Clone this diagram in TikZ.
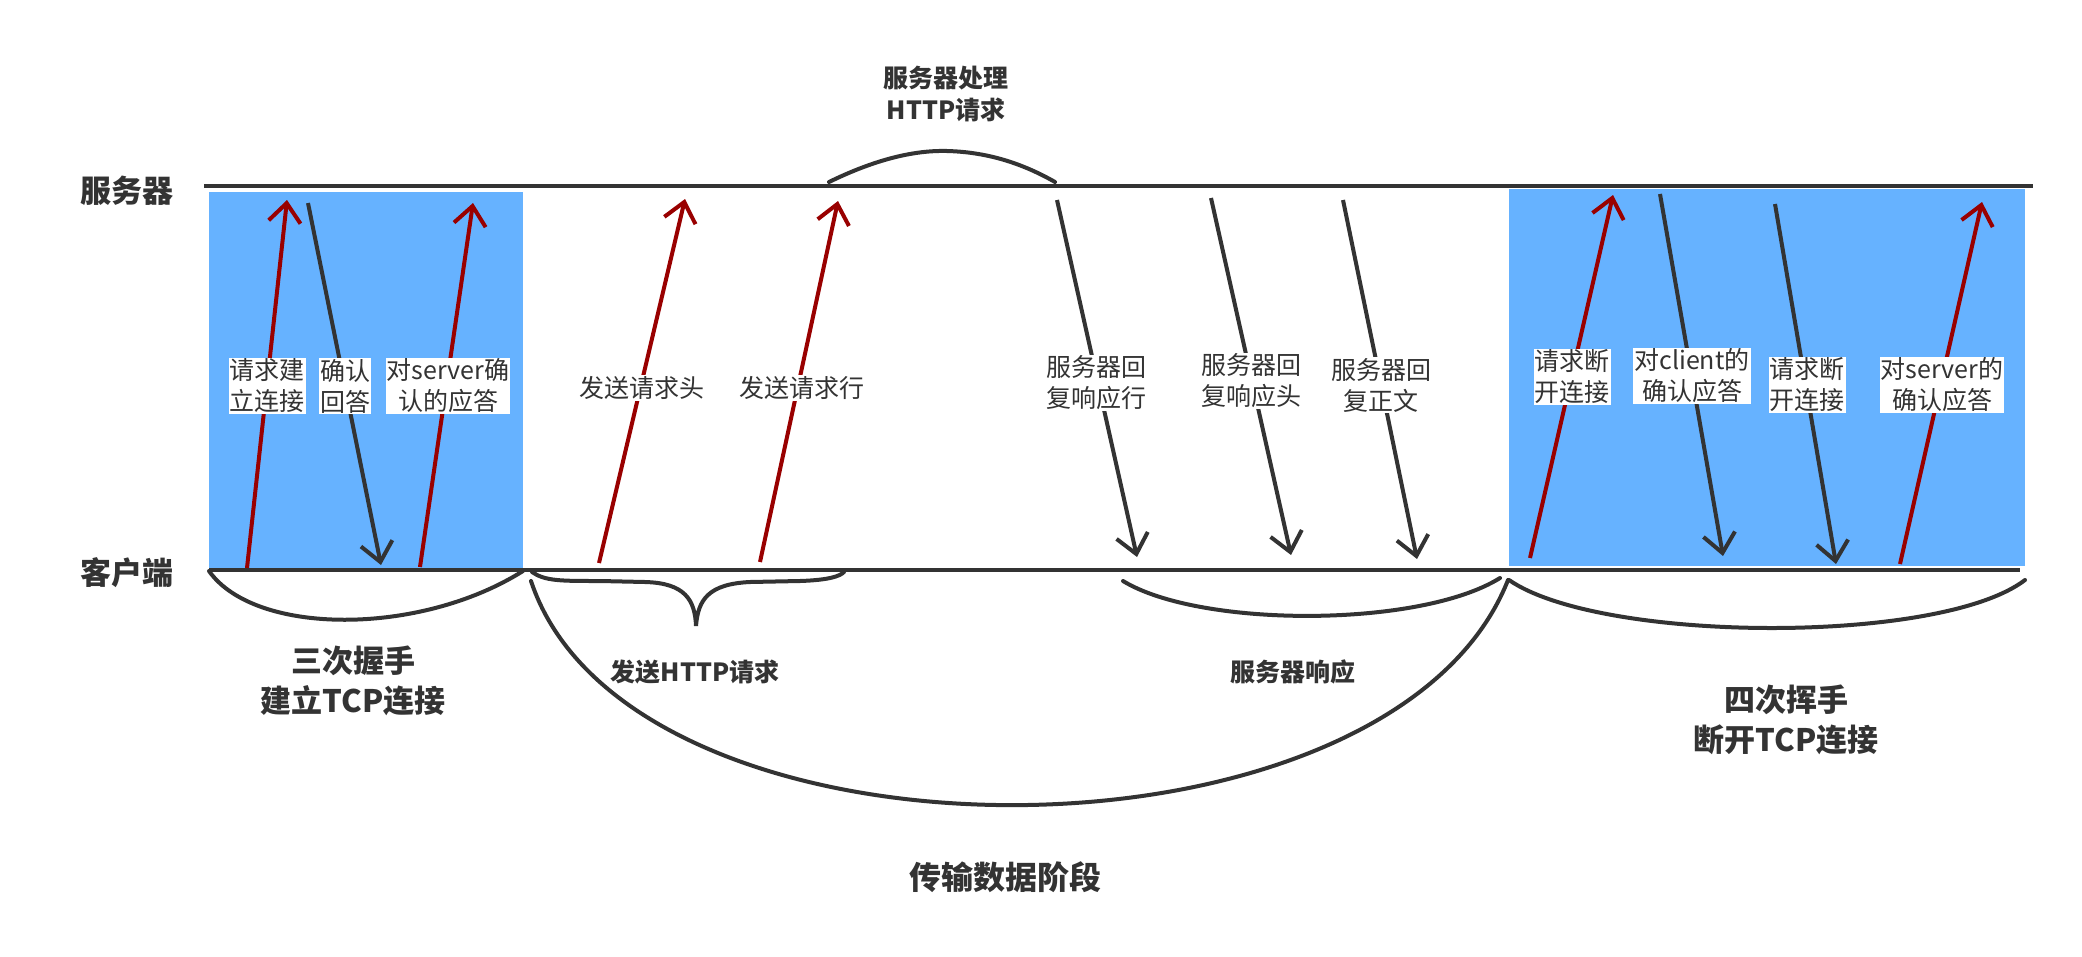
\documentclass[tikz,border=0pt]{standalone}
\usepackage{fontspec}
\setmainfont{Noto Sans CJK SC}
\usetikzlibrary{arrows.meta}
\definecolor{lineg}{HTML}{333333}
\definecolor{txt}{HTML}{333333}
\definecolor{darkred}{HTML}{990000}
\definecolor{zoneblue}{HTML}{66B2FF}
\tikzset{
  lane/.style={line width=4pt, draw=lineg},
  reqarrow/.style={line width=4pt, draw=darkred, -{Straight Barb[length=19pt,width=32pt]}},
  resarrow/.style={line width=4pt, draw=lineg, -{Straight Barb[length=19pt,width=32pt]}},
  lbl/.style={fill=white, inner sep=1pt, align=center, text=txt, font=\fontsize{25}{31}\selectfont},
  ttl/.style={font=\bfseries\fontsize{31}{40}\selectfont, text=txt, align=center},
  subttl/.style={font=\bfseries\fontsize{25}{32}\selectfont, text=txt, align=center},
  bigttl/.style={font=\bfseries\fontsize{32}{40}\selectfont, text=txt, align=center},
  arc/.style={line width=4pt, draw=lineg, line cap=round},
}
\begin{document}
\begin{tikzpicture}[x=1pt,y=-1pt]
\useasboundingbox (0,0) rectangle (2082,956);
\fill[white] (0,0) rectangle (2082,956);
% zones
\fill[zoneblue] (209,192) rectangle (523,568);
\fill[zoneblue] (1509,189) rectangle (2025,566);
% lanes
\coordinate (s0) at (204,186); \coordinate (s1) at (2033,186);
\coordinate (c0) at (209,570); \coordinate (c1) at (2020,570);
\draw[lane] (s0) -- (s1);
\draw[lane] (c0) -- (c1);
\node[ttl] (srv) at (127,191) {服务器};
\node[ttl] (cli) at (127,573) {客户端};
% arrow end points
\coordinate (r1a) at (247,568);  \coordinate (r1b) at (287,200);
\coordinate (k1a) at (308,203);  \coordinate (k1b) at (381,565);
\coordinate (r2a) at (420,567);  \coordinate (r2b) at (473,203);
\coordinate (r3a) at (599,563);  \coordinate (r3b) at (685,199);
\coordinate (r4a) at (760,562);  \coordinate (r4b) at (838,201);
\coordinate (k2a) at (1057,200); \coordinate (k2b) at (1137,557);
\coordinate (k3a) at (1211,198); \coordinate (k3b) at (1291,555);
\coordinate (k4a) at (1343,200); \coordinate (k4b) at (1417,559);
\coordinate (r5a) at (1530,558); \coordinate (r5b) at (1613,195);
\coordinate (k5a) at (1660,194); \coordinate (k5b) at (1723,556);
\coordinate (k6a) at (1775,204); \coordinate (k6b) at (1836,564);
\coordinate (r6a) at (1900,564); \coordinate (r6b) at (1982,202);
\draw[reqarrow] (r1a) -- (r1b);
\draw[resarrow] (k1a) -- (k1b);
\draw[reqarrow] (r2a) -- (r2b);
\draw[reqarrow] (r3a) -- (r3b);
\draw[reqarrow] (r4a) -- (r4b);
\draw[resarrow] (k2a) -- (k2b);
\draw[resarrow] (k3a) -- (k3b);
\draw[resarrow] (k4a) -- (k4b);
\draw[reqarrow] (r5a) -- (r5b);
\draw[resarrow] (k5a) -- (k5b);
\draw[resarrow] (k6a) -- (k6b);
\draw[reqarrow] (r6a) -- (r6b);
% labels
\node[lbl] (l1) at (267,386) {请求建\\立连接};
\node[lbl] (l2) at (345,386) {确认\\回答};
\node[lbl] (l3) at (448,386) {对server确\\认的应答};
\node[lbl] (l4) at (642,388) {发送请求头};
\node[lbl] (l5) at (802,388) {发送请求行};
\node[lbl] (l6) at (1096,383) {服务器回\\复响应行};
\node[lbl] (l7) at (1251,381) {服务器回\\复响应头};
\node[lbl] (l8) at (1381,385) {服务器回\\复正文};
\node[lbl] (l9) at (1572,377) {请求断\\开连接};
\node[lbl] (l10) at (1692,376) {对client的\\确认应答};
\node[lbl] (l11) at (1807,385) {请求断\\开连接};
\node[lbl] (l12) at (1942,385) {对server的\\确认应答};
% curves
\draw[arc] (829,182) .. controls (870,162) and (910,150) .. (947,151)
  .. controls (985,152) and (1020,162) .. (1055,182);
\draw[arc] (209,571) .. controls (255,636) and (420,636) .. (523,571);
\draw[arc] (532,572) .. controls (545,581) and (560,581) .. (600,581)
  -- (645,582) .. controls (685,583) and (695,600) .. (696,626)
  .. controls (698,600) and (708,584) .. (750,582)
  -- (800,581) .. controls (830,580) and (840,576) .. (844,572);
\draw[arc] (531,581) .. controls (630,880) and (1390,880) .. (1508,580);
\draw[arc] (1123,581) .. controls (1200,628) and (1420,628) .. (1500,578);
\draw[arc] (1509,580) .. controls (1600,643) and (1940,645) .. (2025,580);
% titles
\node[subttl] (proc) at (946,94) {服务器处理\\HTTP请求};
\node[ttl] (hs3) at (353,681) {三次握手\\建立TCP连接};
\node[ttl] (hs4) at (1786,720) {四次挥手\\断开TCP连接};
\node[subttl] (sendreq) at (695,672) {发送HTTP请求};
\node[subttl] (resp) at (1293,672) {服务器响应};
\node[bigttl] (trans) at (1005,877) {传输数据阶段};
\end{tikzpicture}
\end{document}
